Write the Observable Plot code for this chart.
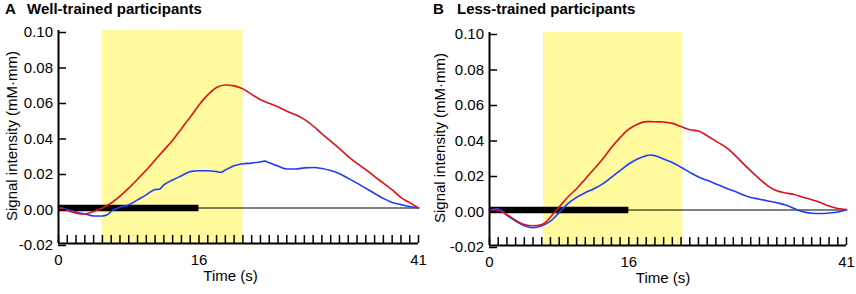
<!DOCTYPE html>
<html>
<head>
<meta charset="utf-8">
<script src="https://cdn.jsdelivr.net/npm/d3@7"></script>
<script src="https://cdn.jsdelivr.net/npm/@observablehq/plot@0.6"></script>
<style>
  html, body { margin: 0; padding: 0; background: white; }
  #wrap { position: relative; width: 856px; height: 294px; overflow: hidden; font-family: "Liberation Sans", Arial, Helvetica, sans-serif; }
  .panel { position: absolute; top: 0; width: 428px; height: 294px; }
  .title { position: absolute; top: 1px; font-weight: bold; font-size: 15px; line-height: 15px; white-space: nowrap; color: black; }
  svg { display: block; }
</style>
</head>
<body>
<div id="wrap"></div>
<script>
// ---- data ----
const xDomain = [0, 41];
const yTicks = [-0.02, 0.00, 0.02, 0.04, 0.06, 0.08, 0.10];
const xTickLabels = [0, 16, 41];
const stimulusBar = [0, 16];
const shadeWell = [5, 21];
const shadeLess = [6.2, 22.2];

const timeWell = [0,1,2,3,4,5,5.5,6,7,8,9,10,11,11.5,12,13,14,15,16,17,18,18.5,19,20,21,22,23,23.5,24,25,26,27,28,29,30,31,32,33,34,35,36,37,38,39,40,41];
const wellRedT = [0,1,2,3,4,5,6,7,8,9,10,11,12,13,14,15,16,17,18,19,20,21,22,23,24,25,26,27,28,29,30,31,32,33,34,35,36,37,38,39,40,41];
const wellRed = [0.0003,-0.0015,-0.0029,-0.0034,-0.002,0.0,0.0028,0.0067,0.0112,0.0162,0.0214,0.027,0.0326,0.0382,0.0447,0.0512,0.058,0.0637,0.0679,0.0693,0.0688,0.0671,0.064,0.061,0.059,0.057,0.0545,0.0525,0.0499,0.0462,0.0418,0.0377,0.0335,0.029,0.0251,0.0216,0.0177,0.014,0.0102,0.0059,0.003,0.0];
const wellBlue = [0.0005,-0.0008,-0.0022,-0.0034,-0.0045,-0.0045,-0.004,-0.0019,0.0004,0.0018,0.0046,0.0074,0.0104,0.0106,0.013,0.0158,0.0182,0.0205,0.021,0.021,0.0205,0.0201,0.0214,0.0238,0.0249,0.0253,0.026,0.0264,0.0255,0.0236,0.022,0.022,0.0226,0.0228,0.0223,0.0211,0.0193,0.0167,0.014,0.0111,0.0082,0.0054,0.0031,0.0019,0.0008,0.0];

const timeLess = [0,1,2,3,4,5,6,6.5,7,8,9,10,11,12,13,14,15,16,17,18,18.5,19,20,21,22,23,24,25,26,27,28,29,30,31,32,33,34,35,36,37,38,39,40,41];
const lessRed = [0.0002,-0.0001,-0.0026,-0.0058,-0.0082,-0.0089,-0.0082,-0.0067,-0.0039,0.0017,0.0073,0.012,0.0175,0.0231,0.0287,0.0352,0.0408,0.0455,0.0483,0.0498,0.0498,0.0497,0.0496,0.0488,0.047,0.0452,0.0445,0.0418,0.0388,0.0358,0.0318,0.0268,0.022,0.0175,0.0135,0.0108,0.0096,0.0087,0.0072,0.0058,0.0042,0.0022,0.0008,0.0002];
const lessBlue = [0.0,0.0007,-0.003,-0.0063,-0.0089,-0.01,-0.0089,-0.0078,-0.0063,-0.0015,0.0036,0.0071,0.0097,0.012,0.0147,0.0184,0.0222,0.0259,0.0287,0.0306,0.031,0.0306,0.0287,0.0268,0.0241,0.0212,0.0186,0.0167,0.0147,0.0127,0.0108,0.0088,0.0071,0.0061,0.0051,0.0041,0.0028,0.0008,-0.001,-0.0018,-0.002,-0.0017,-0.0011,0.0002];

const titles = [["A", "Well-trained participants"], ["B", "Less-trained participants"]];
const yLabel = "Signal intensity (mM·mm)";
const xLabel = "Time (s)";

// ---- styles ----
const RED = "#e0101a";
const BLUE = "#1e3cff";
const YELLOW = "#fffa9e";

function toRows(ts, vs) { return ts.map((t, i) => ({t, v: vs[i]})); }

function panel({red, blue, shade, marginLeft, marginTop, marginBottom, xLabelDx}) {
  const yMin = d3.min(yTicks), yMax = d3.max(yTicks);
  const xTicks = d3.range(xDomain[0], xDomain[1] + 1);
  return Plot.plot({
    width: 428,
    height: 294,
    marginLeft,
    marginRight: 10,
    marginTop,
    marginBottom,
    x: {domain: xDomain},
    y: {domain: [yMin, yMax]},
    style: {fontFamily: "'Liberation Sans', Arial, Helvetica, sans-serif", fontSize: "15px", color: "black", background: "white", overflow: "visible"},
    marks: [
      Plot.rect([shade], {x1: d => d[0], x2: d => d[1], y1: yMin, y2: yMax, fill: YELLOW}),
      Plot.ruleY([0], {x1: xDomain[0], x2: xDomain[1], stroke: "black", strokeWidth: 1.2}),
      Plot.ruleY([0], {x1: stimulusBar[0], x2: stimulusBar[1], stroke: "black", strokeWidth: 6.5}),
      Plot.line(blue, {x: "t", y: "v", stroke: BLUE, strokeWidth: 1.6, curve: "monotone-x"}),
      Plot.line(red, {x: "t", y: "v", stroke: RED, strokeWidth: 1.6, curve: "monotone-x"}),
      Plot.ruleX([xDomain[0]], {y1: yMin, y2: yMax, stroke: "black", strokeWidth: 2}),
      Plot.ruleY([yMin], {x1: xDomain[0], x2: xDomain[1], stroke: "black", strokeWidth: 2}),
      Plot.axisY({ticks: yTicks, tickSize: -8, tickPadding: 13.5, strokeWidth: 1.5, dy: 2, tickFormat: d => d.toFixed(2), label: null}),
      Plot.axisX({ticks: xTicks, tickSize: -8, tickPadding: 19, strokeWidth: 1.5, tickFormat: d => xTickLabels.includes(d) ? String(d) : "", label: null}),
      Plot.text([yLabel], {frameAnchor: "left", rotate: -90, dx: -(marginLeft - 12), dy: -1, text: d => d, textAnchor: "middle", fontSize: 15}),
      Plot.text([xLabel], {frameAnchor: "bottom", dx: xLabelDx, dy: 37, text: d => d, textAnchor: "middle", fontSize: 15})
    ]
  });
}

const wrap = document.getElementById("wrap");
const configs = [
  {red: toRows(wellRedT, wellRed), blue: toRows(timeWell, wellBlue), shade: shadeWell, marginLeft: 58, marginTop: 30, marginBottom: 51, xLabelDx: -8, left: 0, titleLeft: [5, 27]},
  {red: toRows(timeLess, lessRed), blue: toRows(timeLess, lessBlue), shade: shadeLess, marginLeft: 61, marginTop: 32, marginBottom: 49, xLabelDx: -5, left: 428, titleLeft: [5, 29]}
];
configs.forEach((c, i) => {
  const div = document.createElement("div");
  div.className = "panel";
  div.style.left = c.left + "px";
  div.appendChild(panel(c));
  const t1 = document.createElement("div");
  t1.className = "title"; t1.style.left = c.titleLeft[0] + "px"; t1.textContent = titles[i][0];
  const t2 = document.createElement("div");
  t2.className = "title"; t2.style.left = c.titleLeft[1] + "px"; t2.textContent = titles[i][1];
  div.appendChild(t1); div.appendChild(t2);
  wrap.appendChild(div);
});
</script>
</body>
</html>
